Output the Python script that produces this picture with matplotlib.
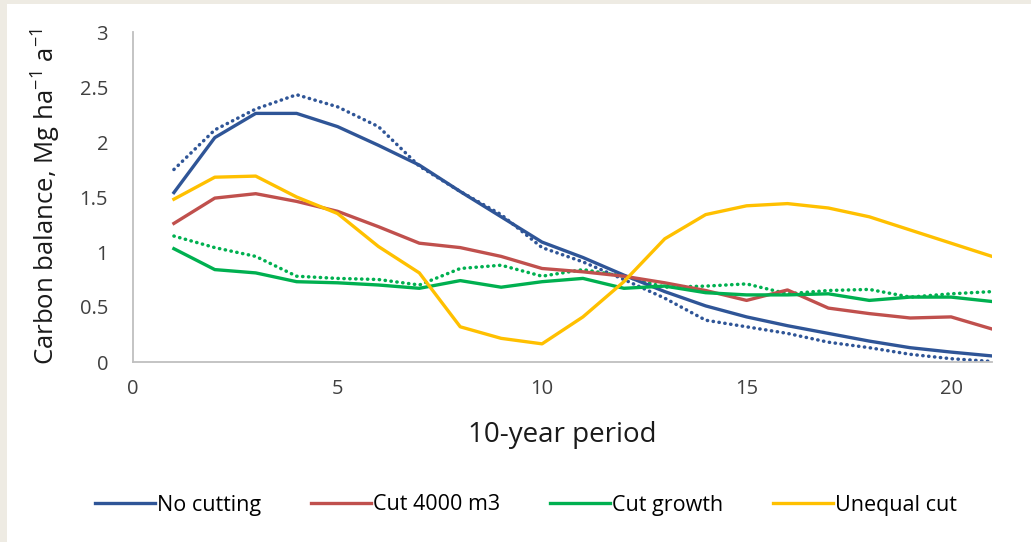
import matplotlib
matplotlib.use('Agg')
import matplotlib.pyplot as plt

plt.rcParams['font.family'] = ['Open Sans', 'DejaVu Sans']
plt.rcParams['mathtext.default'] = 'regular'

periods = list(range(1, 22))

no_cutting = [1.54, 2.04, 2.26, 2.26, 2.14, 1.97, 1.79, 1.55, 1.32, 1.09, 0.95,
              0.79, 0.64, 0.51, 0.41, 0.33, 0.26, 0.19, 0.13, 0.09, 0.055]
no_cutting_alt = [1.75, 2.11, 2.30, 2.43, 2.32, 2.14, 1.78, 1.55, 1.34, 1.04, 0.91,
                  0.75, 0.58, 0.38, 0.32, 0.26, 0.18, 0.13, 0.07, 0.03, 0.005]
cut_4000 = [1.26, 1.49, 1.53, 1.46, 1.37, 1.23, 1.08, 1.04, 0.96, 0.85, 0.82,
            0.78, 0.72, 0.65, 0.56, 0.655, 0.49, 0.44, 0.40, 0.41, 0.30]
cut_growth = [1.03, 0.84, 0.81, 0.73, 0.72, 0.70, 0.67, 0.74, 0.68, 0.73, 0.76,
              0.67, 0.69, 0.63, 0.61, 0.61, 0.62, 0.56, 0.59, 0.59, 0.55]
cut_growth_alt = [1.145, 1.04, 0.96, 0.78, 0.76, 0.75, 0.70, 0.85, 0.88, 0.78, 0.84,
                  0.78, 0.68, 0.69, 0.71, 0.62, 0.65, 0.66, 0.59, 0.62, 0.64]
unequal_cut = [1.48, 1.68, 1.69, 1.50, 1.35, 1.05, 0.81, 0.32, 0.215, 0.165, 0.41,
               0.73, 1.12, 1.34, 1.42, 1.44, 1.40, 1.32, 1.20, 1.08, 0.96]

blue = '#2F5597'
red = '#C0504D'
green = '#00B050'
yellow = '#FFC000'

fig = plt.figure(figsize=(10.31, 5.42), dpi=100)
fig.patch.set_facecolor('#EEEBE3')
# white panel inside the beige frame
fig.patches.append(plt.Rectangle((7 / 1031, 0), 1, 1 - 4 / 542,
                                 transform=fig.transFigure, facecolor='white',
                                 edgecolor='none', zorder=-10))

ax = fig.add_axes([133 / 1031, 180 / 542, 859 / 1031, 330 / 542])
ax.set_facecolor('white')

dots = (0, (0.1, 1.6))
ax.plot(periods, no_cutting_alt, color=blue, lw=2.5, linestyle=dots,
        dash_capstyle='round')
ax.plot(periods, cut_growth_alt, color=green, lw=2.5, linestyle=dots,
        dash_capstyle='round')
ax.plot(periods, no_cutting, color=blue, lw=2.4, label='No cutting')
ax.plot(periods, cut_4000, color=red, lw=2.4, label='Cut 4000 m3')
ax.plot(periods, cut_growth, color=green, lw=2.4, label='Cut growth')
ax.plot(periods, unequal_cut, color=yellow, lw=2.4, label='Unequal cut')

ax.set_xlim(0, 21)
ax.set_ylim(0, 3)
ax.set_xticks([0, 5, 10, 15, 20])
ax.set_yticks([0, 0.5, 1, 1.5, 2, 2.5, 3])
ax.set_yticklabels(['0', '0.5', '1', '1.5', '2', '2.5', '3'])
ax.tick_params(length=0, labelsize=14.5, colors='#404040')
ax.tick_params(axis='y', pad=18)
ax.tick_params(axis='x', pad=12)
for side in ['top', 'right']:
    ax.spines[side].set_visible(False)
for side in ['left', 'bottom']:
    ax.spines[side].set_color('#BFBFBF')
    ax.spines[side].set_linewidth(1.3)

ax.set_xlabel('10-year period', fontsize=20, color='#1a1a1a', labelpad=16)
ax.set_ylabel('Carbon balance, Mg ha$^{-1}$ a$^{-1}$', fontsize=18.5,
              color='#1a1a1a', labelpad=12)

ax.legend(loc='center', bbox_to_anchor=(526 / 1031, 37 / 542),
          bbox_transform=fig.transFigure, ncol=4, frameon=False, fontsize=15.5,
          handlelength=2.8, handletextpad=0.1, columnspacing=2.3)

fig.savefig('out.png', dpi=100, facecolor=fig.get_facecolor())
